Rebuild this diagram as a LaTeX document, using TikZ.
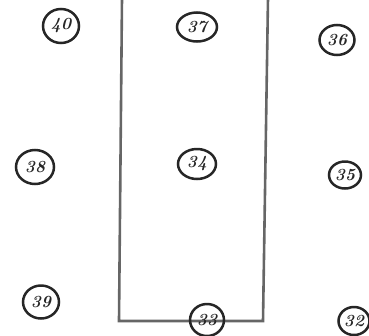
\documentclass[tikz,border=0pt]{standalone}
\usetikzlibrary{shapes.geometric}
\tikzset{
  num/.style={ellipse, draw=black!85, line width=2.5pt, inner sep=0pt,
    font=\fontsize{17}{17}\selectfont\bfseries\itshape, text=black!85},
  wall/.style={draw=black!60, line width=2.6pt}
}
\begin{document}
\begin{tikzpicture}[x=1pt,y=-1pt]
\useasboundingbox (0,0) rectangle (369,335);
\coordinate (rtl) at (122,-2);
\coordinate (rbl) at (119,321);
\coordinate (rbr) at (263,321);
\coordinate (rtr) at (268,-2);
\draw[wall] (rtl) -- (rbl) -- (rbr) -- (rtr);
\node[num, minimum width=36pt, minimum height=34pt] (n40) at (61,26) {40};
\node[num, minimum width=40pt, minimum height=29pt] (n37) at (197,27) {37};
\node[num, minimum width=35pt, minimum height=30pt] (n36) at (337,40) {36};
\node[num, minimum width=38pt, minimum height=34pt] (n38) at (35,167) {38};
\node[num, minimum width=38pt, minimum height=30pt] (n34) at (197,164) {34};
\node[num, minimum width=32pt, minimum height=27pt] (n35) at (345,175) {35};
\node[num, minimum width=36pt, minimum height=33pt] (n39) at (41,302) {39};
\node[num, minimum width=34pt, minimum height=32pt] (n33) at (207,320) {33};
\node[num, minimum width=31pt, minimum height=28pt] (n32) at (354,321) {32};
\end{tikzpicture}
\end{document}
